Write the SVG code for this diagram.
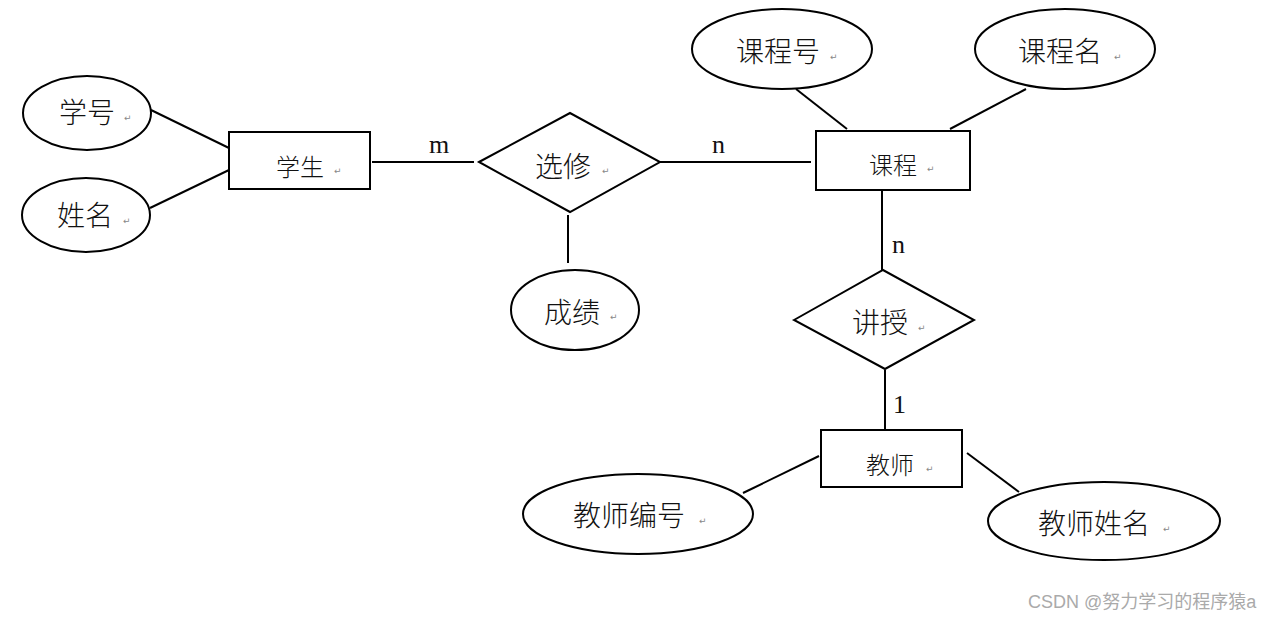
<svg xmlns="http://www.w3.org/2000/svg" width="1285" height="620" viewBox="0 0 1285 620">
<style>
.s{fill:#fff;stroke:#000;stroke-width:2}
.c line{stroke:#000;stroke-width:2}
.t{font-family:"Noto Sans CJK SC","Noto Sans",sans-serif;font-weight:300;fill:#111;dominant-baseline:central}
.e{font-size:28px}
.r{font-size:24px}
.p{font-family:"DejaVu Sans",sans-serif;font-size:9px;fill:#888;dominant-baseline:central}
.l{font-family:"Liberation Serif",serif;font-size:26px;fill:#111}
.w{font-family:"Liberation Sans","Noto Sans CJK SC",sans-serif;font-size:18px;fill:#aaa}
</style>
<rect width="1285" height="620" fill="#fff"/>
<g class="c" id="connectors">
<line x1="151" y1="110" x2="229" y2="148"/>
<line x1="150" y1="208" x2="229" y2="170"/>
<line x1="372" y1="162" x2="474" y2="162"/>
<line x1="660" y1="162" x2="811" y2="162"/>
<line x1="568" y1="215" x2="568" y2="263"/>
<line x1="796" y1="89" x2="847" y2="129"/>
<line x1="1026" y1="89" x2="950" y2="129"/>
<line x1="882" y1="190" x2="882" y2="270"/>
<line x1="885" y1="370" x2="885" y2="430"/>
<line x1="743" y1="493" x2="819" y2="456"/>
<line x1="967" y1="453" x2="1019" y2="492"/>
</g>
<g id="labels">
<text class="l" x="429" y="153">m</text>
<text class="l" x="712" y="153">n</text>
<text class="l" x="892" y="253">n</text>
<text class="l" x="893" y="413">1</text>
</g>
<g id="xuehao"><ellipse class="s" cx="87" cy="113" rx="64" ry="37"/><text class="t e" x="59" y="111">学号</text><text class="p" x="124" y="118">↵</text></g>
<g id="xingming"><ellipse class="s" cx="86" cy="215" rx="64" ry="37"/><text class="t e" x="57" y="214">姓名</text><text class="p" x="123" y="221">↵</text></g>
<g id="xuesheng"><rect class="s" x="229" y="132" width="141" height="57"/><text class="t r" x="276" y="165">学生</text><text class="p" x="334" y="171">↵</text></g>
<g id="xuanxiu"><polygon class="s" points="479,162 570,113 660,162 570,212"/><text class="t e" x="535" y="165">选修</text><text class="p" x="602" y="171">↵</text></g>
<g id="chengji"><ellipse class="s" cx="575" cy="310" rx="64" ry="40"/><text class="t e" x="544" y="311">成绩</text><text class="p" x="610" y="317">↵</text></g>
<g id="kecheng"><rect class="s" x="816" y="131" width="154" height="59"/><text class="t r" x="869" y="163">课程</text><text class="p" x="927" y="169">↵</text></g>
<g id="kechenghao"><ellipse class="s" cx="782" cy="49" rx="90" ry="40"/><text class="t e" x="736" y="50">课程号</text><text class="p" x="830" y="57">↵</text></g>
<g id="kechengming"><ellipse class="s" cx="1065" cy="49" rx="90" ry="40"/><text class="t e" x="1018" y="50">课程名</text><text class="p" x="1114" y="57">↵</text></g>
<g id="jiangshou"><polygon class="s" points="794,320 883,270 974,320 885,369"/><text class="t e" x="852" y="321">讲授</text><text class="p" x="918" y="328">↵</text></g>
<g id="jiaoshi"><rect class="s" x="821" y="430" width="141" height="57"/><text class="t r" x="866" y="463">教师</text><text class="p" x="926" y="469">↵</text></g>
<g id="jiaoshibianhao"><ellipse class="s" cx="638" cy="514" rx="115" ry="40"/><text class="t e" x="573" y="514">教师编号</text><text class="p" x="699" y="521">↵</text></g>
<g id="jiaoshixingming"><ellipse class="s" cx="1104" cy="521" rx="116" ry="39"/><text class="t e" x="1038" y="522">教师姓名</text><text class="p" x="1163" y="529">↵</text></g>
<text class="w" x="1028" y="608">CSDN @努力学习的程序猿a</text>
</svg>
